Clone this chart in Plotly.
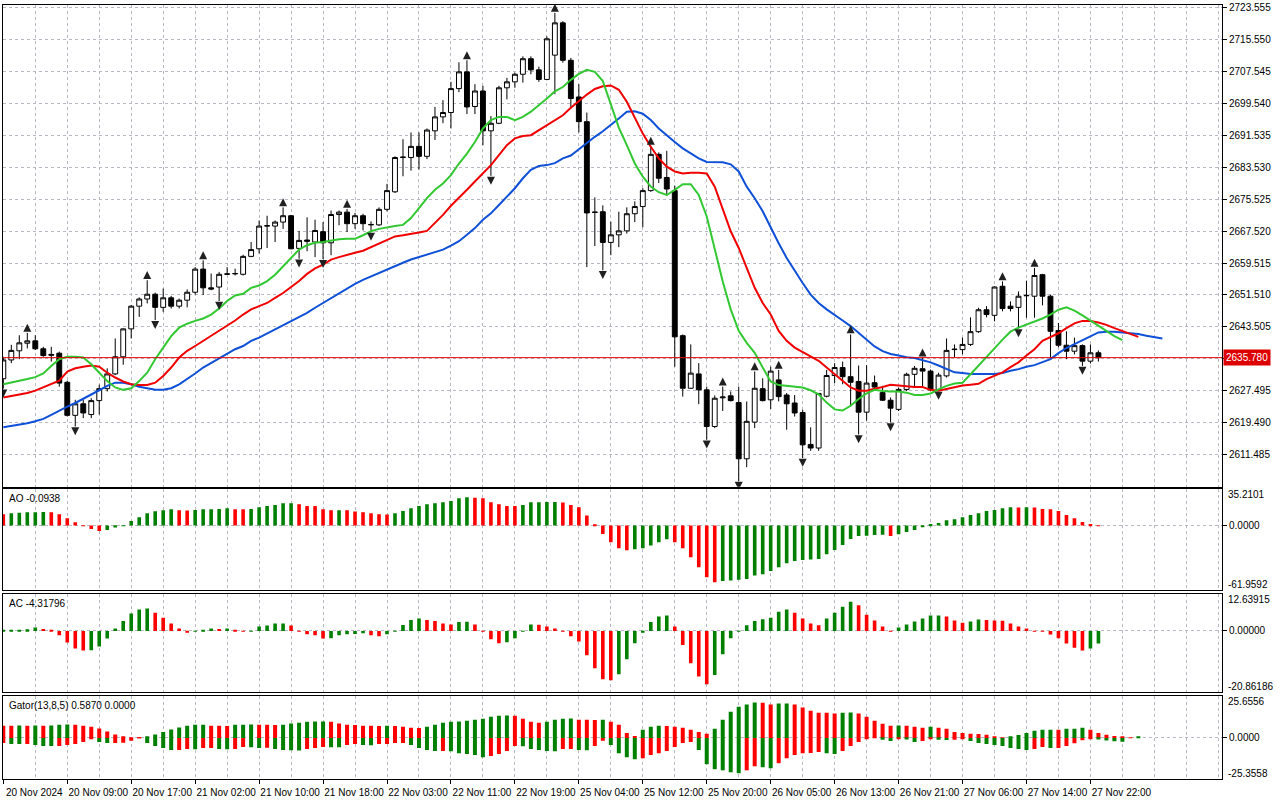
import plotly.graph_objects as go
from plotly.subplots import make_subplots

# XAUUSD H1, bar 0 = 20 Nov 01:00 ... bar 137 = 27 Nov 23:00
OPEN = [
    2630.5, 2635.2, 2637.5, 2639.4, 2640.0, 2638.0, 2636.6, 2636.9, 2629.6, 2621.3,
    2624.2, 2621.5, 2625.0, 2628.0, 2631.7, 2636.0, 2643.0, 2648.7, 2650.5, 2651.7,
    2648.4, 2650.8, 2648.7, 2650.2, 2652.2, 2658.0, 2653.3, 2653.5, 2656.7, 2656.8,
    2656.7, 2661.2, 2663.1, 2668.8, 2668.8, 2669.8, 2671.4, 2663.2, 2665.3, 2664.8,
    2667.4, 2664.6, 2671.7, 2672.3, 2669.4, 2671.4, 2669.1, 2669.1, 2673.0, 2677.4,
    2686.0, 2686.0, 2688.8, 2686.3, 2692.7, 2696.2, 2697.3, 2703.3, 2707.5, 2698.8,
    2702.7, 2692.7, 2694.6, 2703.5, 2705.0, 2706.9, 2710.8, 2708.0, 2705.6, 2711.7,
    2719.8, 2710.4, 2701.2, 2695.0, 2672.2, 2672.4, 2664.7, 2666.6, 2667.6, 2671.9,
    2673.7, 2677.7, 2686.8, 2681.0, 2677.7, 2641.3, 2628.1, 2631.7, 2627.7, 2618.5,
    2625.7, 2626.2, 2624.5, 2610.4, 2619.6, 2628.0, 2625.2, 2630.2, 2626.4, 2624.4,
    2622.0, 2614.0, 2613.1, 2626.1, 2631.3, 2633.3, 2631.0, 2629.8, 2622.1, 2629.5,
    2627.0, 2625.1, 2622.8, 2627.8, 2631.6, 2633.0, 2632.4, 2627.8, 2631.2, 2637.8,
    2637.8, 2639.1, 2642.3, 2647.8, 2646.4, 2653.7, 2648.7, 2648.4, 2651.3, 2651.2,
    2656.6, 2651.2, 2642.6, 2638.9, 2637.4, 2638.8, 2634.9, 2637.0,
]
HIGH = [
    2636.0, 2639.0, 2641.4, 2642.0, 2641.4, 2638.5, 2638.5, 2637.3, 2630.0, 2625.2,
    2625.2, 2625.6, 2629.0, 2633.1, 2640.6, 2643.1, 2649.0, 2650.9, 2655.2, 2652.1,
    2653.1, 2651.3, 2650.6, 2652.9, 2658.5, 2660.2, 2656.9, 2657.3, 2658.5, 2658.1,
    2661.6, 2664.8, 2670.2, 2671.4, 2670.2, 2673.5, 2671.6, 2667.6, 2671.0, 2670.4,
    2669.8, 2672.7, 2672.7, 2673.1, 2672.1, 2671.9, 2670.0, 2673.5, 2679.4, 2686.3,
    2690.6, 2692.3, 2692.3, 2693.3, 2698.7, 2700.4, 2705.0, 2709.9, 2710.4, 2704.4,
    2704.0, 2696.4, 2704.0, 2706.0, 2707.3, 2711.4, 2711.4, 2708.8, 2716.4, 2722.3,
    2720.2, 2711.0, 2704.4, 2697.3, 2676.0, 2674.0, 2669.9, 2672.4, 2673.5, 2675.0,
    2678.3, 2688.9, 2687.3, 2687.7, 2678.9, 2641.6, 2639.1, 2634.4, 2628.5, 2626.3,
    2628.5, 2627.3, 2628.5, 2624.8, 2632.3, 2630.6, 2633.5, 2632.7, 2626.9, 2626.4,
    2622.7, 2618.3, 2626.9, 2632.7, 2634.4, 2634.8, 2641.6, 2633.8, 2633.9, 2631.3,
    2628.7, 2625.8, 2628.3, 2632.0, 2633.7, 2635.8, 2632.8, 2632.0, 2640.6, 2639.1,
    2640.8, 2645.9, 2648.3, 2648.7, 2653.7, 2654.9, 2649.9, 2652.4, 2655.1, 2658.3,
    2656.8, 2651.6, 2644.5, 2642.4, 2640.8, 2639.1, 2639.1, 2637.6,
]
LOW = [
    2628.0, 2634.4, 2635.4, 2638.1, 2637.7, 2636.0, 2634.8, 2628.5, 2621.0, 2618.5,
    2620.6, 2620.6, 2621.5, 2627.3, 2631.4, 2634.0, 2640.6, 2646.0, 2649.4, 2645.2,
    2647.3, 2648.1, 2648.1, 2648.4, 2651.6, 2651.5, 2652.7, 2650.0, 2656.5, 2656.4,
    2656.4, 2661.0, 2661.9, 2663.3, 2664.8, 2668.1, 2663.0, 2660.6, 2662.5, 2661.0,
    2660.5, 2661.5, 2669.0, 2667.3, 2668.1, 2667.7, 2667.3, 2668.8, 2672.5, 2677.1,
    2681.3, 2682.7, 2683.0, 2685.6, 2690.4, 2694.6, 2693.3, 2702.4, 2696.9, 2696.9,
    2689.1, 2681.4, 2694.4, 2700.6, 2703.5, 2704.8, 2706.9, 2705.0, 2705.4, 2701.9,
    2709.8, 2698.5, 2692.3, 2658.5, 2663.8, 2657.7, 2661.5, 2663.5, 2666.9, 2669.8,
    2668.5, 2677.4, 2679.6, 2676.4, 2633.5, 2626.0, 2628.0, 2624.1, 2615.2, 2618.1,
    2622.4, 2624.8, 2604.8, 2608.3, 2618.1, 2624.8, 2622.9, 2624.8, 2617.7, 2621.0,
    2610.6, 2612.4, 2612.4, 2625.8, 2629.4, 2629.1, 2623.5, 2616.5, 2620.0, 2627.8,
    2624.9, 2619.5, 2622.4, 2627.4, 2628.3, 2628.3, 2627.4, 2627.4, 2630.8, 2635.8,
    2636.6, 2638.7, 2642.0, 2645.9, 2644.9, 2647.4, 2647.4, 2643.1, 2645.8, 2645.8,
    2648.9, 2635.4, 2638.4, 2635.4, 2636.6, 2633.7, 2634.3, 2634.8,
]
CLOSE = [
    2635.2, 2637.6, 2639.5, 2640.0, 2638.0, 2636.3, 2636.4, 2629.4, 2621.3, 2624.2,
    2621.9, 2625.0, 2628.0, 2631.7, 2636.0, 2643.0, 2648.7, 2650.5, 2651.7, 2648.4,
    2650.8, 2648.7, 2650.2, 2652.2, 2658.0, 2653.3, 2653.0, 2656.7, 2656.8, 2656.9,
    2661.2, 2662.9, 2668.8, 2668.9, 2669.8, 2671.4, 2663.1, 2665.2, 2665.0, 2667.7,
    2664.6, 2671.7, 2672.3, 2669.4, 2671.4, 2669.4, 2669.2, 2673.0, 2677.7, 2686.0,
    2686.1, 2688.8, 2686.3, 2692.9, 2696.2, 2697.3, 2703.3, 2707.5, 2698.7, 2702.7,
    2692.7, 2694.6, 2703.5, 2705.0, 2706.9, 2710.8, 2708.0, 2705.6, 2715.8, 2719.8,
    2710.4, 2700.8, 2695.0, 2672.1, 2672.3, 2664.7, 2666.6, 2667.6, 2671.9, 2673.7,
    2677.7, 2686.8, 2680.8, 2678.1, 2641.0, 2628.1, 2631.9, 2627.7, 2618.5, 2625.6,
    2625.9, 2625.0, 2610.4, 2619.8, 2628.1, 2625.0, 2632.4, 2626.0, 2624.2, 2621.9,
    2613.9, 2613.1, 2626.8, 2631.3, 2633.3, 2631.0, 2629.6, 2622.1, 2629.4, 2628.4,
    2625.1, 2623.1, 2627.8, 2631.6, 2633.1, 2632.4, 2627.7, 2631.4, 2637.6, 2637.9,
    2639.1, 2642.3, 2647.8, 2646.6, 2653.5, 2648.1, 2648.1, 2651.2, 2651.4, 2656.4,
    2651.2, 2642.4, 2638.9, 2637.4, 2638.8, 2634.9, 2637.0, 2635.78,
]

# Alligator lines (already shifted forward, so they run past the last bar)
LIPS = [
    2629.1, 2629.5, 2630.0, 2630.4, 2630.9, 2631.8, 2633.7, 2635.4, 2636.0, 2636.0,
    2635.8, 2634.1, 2632.0, 2629.9, 2628.3, 2627.7, 2628.1, 2629.9, 2632.0, 2635.4,
    2638.3, 2641.2, 2643.3, 2644.3, 2645.0, 2645.6, 2646.6, 2648.1, 2650.0, 2651.4,
    2651.8, 2653.3, 2653.9, 2655.0, 2656.6, 2658.7, 2660.8, 2662.9, 2664.0, 2664.6,
    2664.8, 2665.2, 2665.5, 2665.6, 2665.6, 2666.5, 2667.5, 2668.1, 2668.5, 2668.8,
    2669.1, 2670.8, 2673.3, 2675.8, 2677.9, 2679.5, 2681.6, 2684.5, 2687.0, 2689.9,
    2693.3, 2695.4, 2696.2, 2696.2, 2695.4, 2696.2, 2697.5, 2699.1, 2700.8, 2702.6,
    2703.7, 2705.5, 2707.0, 2708.0, 2707.5, 2705.2, 2699.5, 2693.5, 2689.1, 2684.5,
    2681.2, 2678.7, 2677.3, 2676.6, 2677.9, 2679.3, 2679.3, 2676.6, 2671.2, 2663.3,
    2654.9, 2647.9, 2642.5, 2639.5, 2637.0, 2633.3, 2629.8, 2628.9, 2628.7, 2628.5,
    2628.3, 2627.6, 2626.6, 2624.5, 2622.8, 2622.5, 2623.7, 2625.4, 2626.8, 2627.7,
    2627.4, 2627.3, 2627.3, 2627.0, 2626.4, 2626.4, 2626.8, 2627.8, 2628.7, 2629.3,
    2629.5, 2631.6, 2633.7, 2635.9, 2638.1, 2640.3, 2642.3, 2643.3, 2644.1, 2644.7,
    2645.6, 2646.6, 2647.8, 2648.4, 2647.6, 2646.4, 2645.1, 2643.7, 2642.4, 2641.2,
    2640.2,
]
TEETH = [
    2625.8, 2626.2, 2626.5, 2626.9, 2627.5, 2628.3, 2629.0, 2630.0, 2632.3, 2633.1,
    2633.5, 2633.8, 2633.5, 2632.0, 2630.8, 2629.8, 2629.1, 2628.9, 2628.9, 2629.5,
    2631.2, 2633.3, 2635.8, 2637.5, 2638.7, 2640.0, 2641.2, 2642.5, 2643.7, 2645.1,
    2646.6, 2647.9, 2648.7, 2649.5, 2650.8, 2652.0, 2653.5, 2655.0, 2656.8, 2658.2,
    2659.1, 2660.4, 2661.0, 2661.6, 2662.1, 2662.6, 2663.5, 2664.5, 2665.4, 2666.2,
    2666.5, 2666.8, 2667.2, 2667.6, 2669.5, 2671.6, 2673.9, 2675.8, 2677.9, 2680.0,
    2682.0, 2684.1, 2686.6, 2689.1, 2690.8, 2691.4, 2691.6, 2692.9, 2694.1, 2695.4,
    2696.6, 2698.5, 2700.2, 2701.8, 2703.2, 2703.9, 2704.1, 2703.0, 2700.0, 2696.2,
    2692.0, 2688.7, 2685.8, 2683.7, 2682.5, 2682.0, 2682.2, 2682.2, 2682.0, 2678.7,
    2673.3, 2667.5, 2663.3, 2658.3, 2653.3, 2649.5, 2646.6, 2642.5, 2640.0, 2638.3,
    2637.2, 2636.2, 2635.0, 2633.3, 2631.6, 2629.9, 2628.3, 2627.5, 2627.5, 2628.0,
    2628.4, 2629.0, 2628.8, 2628.5, 2628.4, 2628.4, 2627.7, 2627.5, 2627.9, 2628.4,
    2628.8, 2629.0, 2629.2, 2630.4, 2631.3, 2632.1, 2633.4, 2634.6, 2636.3, 2637.9,
    2640.0, 2641.0, 2641.9, 2643.2, 2644.4, 2645.0, 2645.0, 2644.6, 2644.0, 2643.2,
    2642.4, 2641.7, 2641.0,
]
JAW = [
    2618.3, 2618.6, 2619.0, 2619.3, 2619.8, 2620.4, 2621.4, 2622.5, 2623.5, 2624.4,
    2625.4, 2626.6, 2627.6, 2628.7, 2629.5, 2629.5, 2629.1, 2628.5, 2628.1, 2627.7,
    2627.7, 2628.1, 2629.1, 2630.4, 2631.8, 2633.3, 2634.4, 2635.6, 2636.8, 2637.9,
    2638.7, 2640.0, 2640.8, 2641.8, 2642.9, 2643.9, 2645.0, 2646.0, 2647.0, 2648.3,
    2649.5, 2650.8, 2652.0, 2653.1, 2654.3, 2655.3, 2656.2, 2657.0, 2657.9, 2658.7,
    2659.6, 2660.4, 2661.0, 2661.6, 2662.2, 2662.9, 2663.9, 2665.0, 2666.6, 2668.3,
    2670.4, 2672.0, 2674.1, 2676.2, 2678.3, 2680.8, 2682.9, 2683.9, 2684.1, 2684.6,
    2685.8, 2686.5, 2688.1, 2689.7, 2691.2, 2692.6, 2694.1, 2695.8, 2697.5, 2697.6,
    2697.0, 2695.4, 2693.3, 2691.5, 2689.9, 2688.3, 2687.0, 2685.8, 2684.9, 2684.9,
    2684.8, 2684.3, 2682.5, 2678.7, 2675.8, 2672.5, 2668.3, 2664.5, 2660.8, 2657.5,
    2654.5, 2651.6, 2649.5, 2647.9, 2646.6, 2645.1, 2643.7, 2642.0, 2640.2, 2638.6,
    2637.4, 2636.7, 2636.3, 2635.9, 2635.7, 2635.2, 2634.6, 2633.8, 2632.9, 2632.1,
    2631.9, 2631.7, 2631.7, 2631.7, 2631.7, 2631.9, 2632.5, 2632.9, 2633.5, 2633.9,
    2634.6, 2635.4, 2636.9, 2638.2, 2639.2, 2640.2, 2641.3, 2642.1, 2642.3, 2642.3,
    2642.1, 2641.9, 2641.7, 2641.3, 2641.0, 2640.6,
]

FRACTAL_UP = [3, 18, 25, 35, 43, 58, 69, 81, 90, 94, 97, 106, 115, 125, 129]
FRACTAL_DOWN = [0, 9, 19, 27, 37, 40, 46, 61, 75, 88, 92, 100, 107, 111, 117, 127, 135]

# Awesome Oscillator, g = rising bar, r = falling bar
AO = [
    10.9, 11.9, 12.5, 12.9, 13.0, 13.1, 12.9, 10.9, 7.1, 3.2,
    0.3, -3.2, -5.1, -4.2, -1.9, -0.3, 4.5, 8.0, 11.9, 13.8,
    14.8, 15.8, 14.8, 14.7, 15.1, 15.8, 15.9, 16.0, 16.7, 15.9,
    15.8, 16.1, 17.7, 19.0, 19.9, 21.6, 21.7, 20.6, 19.0, 18.9,
    15.8, 14.8, 14.9, 14.8, 13.5, 12.9, 11.9, 10.9, 10.8, 11.9,
    14.2, 16.7, 19.0, 20.6, 21.6, 22.5, 23.8, 26.4, 27.3, 27.0,
    26.4, 22.5, 20.6, 19.0, 18.9, 19.9, 22.5, 22.6, 22.7, 22.8,
    22.3, 19.9, 17.7, 9.7, 1.3, -8.0, -16.1, -21.9, -23.8, -22.8,
    -21.9, -19.3, -16.1, -13.2, -16.1, -21.9, -30.6, -40.2, -49.9, -54.7,
    -53.4, -53.1, -52.4, -51.5, -48.3, -47.0, -43.8, -40.2, -36.4, -34.1,
    -33.1, -32.8, -32.2, -27.7, -23.5, -18.7, -12.9, -10.0, -9.7, -9.0,
    -8.8, -10.0, -8.4, -6.1, -4.2, -1.3, 1.6, 2.6, 5.1, 6.1,
    8.0, 10.3, 11.9, 14.2, 15.1, 16.7, 17.7, 17.5, 17.7, 17.5,
    16.1, 15.8, 14.2, 10.3, 7.1, 3.5, 1.6, -0.0938,
]
AO_DIR = ("rgggggrrrr rrrggggggg ggrrgggggr rggggggrrr rrgrrrrrrg "
          "gggggggggr rrrrrggggg rrrrrrrrrg ggggrrrrrr gggggggggg "
          "gggggggggg grgggggggg gggggggrgr rrrrrrrr")

# Accelerator Oscillator
AC = [
    0.3, 0.35, 0.4, 0.57, 1.13, 0.68, 0.1, -1.47, -3.97, -6.0,
    -6.7, -6.6, -5.3, -2.6, 0.8, 3.4, 5.9, 7.3, 7.6, 6.2,
    4.5, 2.5, 0.8, -0.45, -0.05, 0.34, 0.8, 0.68, 0.8, 0.1,
    -0.1, 0.05, 1.47, 1.8, 2.5, 2.55, 1.8, -0.05, -1.13, -1.47,
    -2.6, -2.5, -1.47, -1.13, -1.05, -0.8, -1.47, -1.8, -1.13, 0.05,
    2.0, 3.7, 4.2, 3.7, 3.4, 2.5, 2.15, 3.06, 3.1, 2.15,
    -0.1, -2.8, -4.2, -3.85, -2.5, 0.05, 2.15, 2.1, 1.47, 0.8,
    -0.05, -1.8, -3.6, -8.3, -12.7, -16.4, -16.8, -14.7, -9.6, -4.2,
    -0.34, 3.06, 4.9, 5.2, 1.47, -4.8, -11.0, -15.5, -18.1, -15.0,
    -7.9, -2.5, 0.05, 1.9, 3.4, 4.0, 4.5, 6.5, 7.3, 6.2,
    4.2, 2.5, 1.9, 4.2, 6.2, 8.2, 9.9, 8.7, 5.5, 3.5,
    1.47, -0.05, 1.13, 2.15, 3.2, 4.2, 5.2, 5.25, 4.9, 3.5,
    2.8, 3.2, 3.85, 3.7, 3.5, 3.45, 2.5, 1.47, 0.8, -0.05,
    -0.15, -1.24, -2.5, -4.3, -5.7, -6.7, -6.0, -4.31796,
]
AC_DIR = ("gggggrrrrr rggggggggr rrrrgggrgr rgggggrrrr rgggggrrgg "
          "gggrrrrggr rrrggggrrr rrrrrrrggg ggggrrrrrg gggggggggr "
          "rrrggggrrr rrggggggrr rggrrrrrrr rrrrrrgg")

# Gator oscillator: upper = |jaw - teeth|, lower = -|teeth - lips|
GATOR_UP = [
    7.5, 7.5, 7.6, 7.5, 7.6, 7.5, 7.7, 8.1, 8.3, 8.1,
    7.5, 6.9, 5.8, 4.0, 2.1, 0.8, 0.2, 0.15, 0.8, 2.1,
    3.7, 5.2, 6.4, 7.5, 8.1, 8.2, 7.5, 7.5, 7.4, 8.1,
    8.2, 8.3, 8.1, 8.1, 8.0, 8.1, 8.9, 9.4, 10.0, 10.1,
    10.2, 10.0, 8.9, 8.1, 8.0, 7.5, 7.5, 7.4, 7.5, 7.4,
    6.9, 6.2, 6.1, 6.9, 8.1, 9.4, 10.0, 10.1, 10.6, 11.2,
    11.9, 13.1, 13.7, 13.8, 13.7, 11.9, 10.0, 9.4, 10.0, 11.2,
    11.9, 12.0, 11.2, 11.2, 11.1, 11.2, 10.0, 8.1, 3.1, 1.2,
    5.0, 6.9, 7.5, 7.4, 6.9, 6.2, 5.0, 3.7, 2.5, 5.6,
    11.2, 16.2, 19.3, 20.6, 21.8, 21.7, 20.6, 21.2, 21.3, 20.6,
    18.7, 16.8, 15.6, 15.5, 15.0, 15.6, 15.7, 15.0, 13.1, 10.6,
    8.7, 7.5, 7.6, 7.5, 6.9, 6.2, 6.9, 6.2, 5.6, 3.7,
    3.1, 2.5, 2.4, 1.9, 0.6, 0.2, 0.9, 1.8, 3.1, 4.4,
    5.0, 5.1, 5.0, 5.6, 5.7, 6.2, 5.0, 3.1, 1.9, 1.2,
    0.6, 0.2, 0.587,
]
GATOR_UP_DIR = ("rrgrgrgggr rrrrrrrrgg ggggggrrrg ggrrrggggg grrrrrrrgr "
                "rrrggggggg ggggrrrrgg ggrrrgrrrr gggrrrrrrg gggggrrggr "
                "rrrrrggrrr rrgrrrgrrr rrrrrrgggg ggrgggrrrr rrg")
GATOR_DN = [
    -3.1, -3.7, -3.7, -3.7, -4.4, -5.0, -5.0, -5.0, -4.4, -3.7,
    -2.5, -0.6, -2.5, -3.1, -3.1, -3.0, -1.7, -0.1, -3.1, -5.0,
    -6.2, -7.5, -7.4, -6.9, -7.0, -6.2, -6.2, -6.9, -7.0, -6.9,
    -5.6, -5.7, -6.2, -6.1, -6.9, -7.5, -7.6, -7.7, -6.9, -6.2,
    -5.6, -5.7, -5.8, -4.4, -3.7, -4.4, -4.5, -3.7, -3.7, -3.1,
    -3.1, -4.4, -6.2, -7.5, -8.1, -8.1, -8.2, -9.4, -10.0, -10.6,
    -11.9, -11.2, -10.0, -8.1, -5.0, -5.1, -6.9, -7.5, -8.1, -8.2,
    -6.9, -6.9, -7.5, -7.6, -5.0, -1.7, -4.4, -9.4, -11.9, -13.1,
    -12.5, -10.6, -9.4, -8.1, -5.6, -3.1, -2.5, -7.5, -16.2, -19.3,
    -20.0, -21.2, -21.8, -20.0, -17.5, -18.1, -18.7, -15.6, -12.5, -10.6,
    -9.4, -9.3, -8.7, -9.4, -10.0, -8.1, -5.0, -2.5, -0.6, -0.2,
    -1.2, -1.9, -0.6, -1.0, -2.5, -1.9, -0.6, -1.2, -1.3, -1.2,
    -0.5, -1.9, -3.1, -3.7, -4.4, -5.0, -6.2, -6.9, -7.5, -6.9,
    -5.6, -6.2, -6.2, -5.0, -3.3, -1.5, -0.3, -1.0, -1.6, -2.0,
    -2.3,
]
GATOR_DN_DIR = ("rggrgggrrr rrggrrrrgg ggrrgrrggr rggrggggrr rggrrggrrr "
                "rggggrgggg grrrrggggg rrggrrgggg rrrrrrrggg gggrrggrrr "
                "rrrggrrrrr ggrggrrggr rggggggggr rgrrrrrggg g")

TIME_LABELS = [
    "20 Nov 2024", "20 Nov 09:00", "20 Nov 17:00", "21 Nov 02:00", "21 Nov 10:00",
    "21 Nov 18:00", "22 Nov 03:00", "22 Nov 11:00", "22 Nov 19:00", "25 Nov 04:00",
    "25 Nov 12:00", "25 Nov 20:00", "26 Nov 05:00", "26 Nov 13:00", "26 Nov 21:00",
    "27 Nov 06:00", "27 Nov 14:00", "27 Nov 22:00",
]
PRICE_TICKS = [
    "2611.485", "2619.490", "2627.495", "2635.500", "2643.505", "2651.510", "2659.515",
    "2667.520", "2675.525", "2683.530", "2691.535", "2699.540", "2707.545", "2715.550",
    "2723.555",
]
BID = 2635.78
AO_RANGE = [-61.9592, 35.2101]
AC_RANGE = [-20.86186, 12.63915]
GATOR_RANGE = [-25.3558, 25.6556]

FONT = "Liberation Sans"
GRID = "#b9b9c3"
UP_COL, DN_COL = "#008000", "#ff0000"


def dir_colors(flags):
    return [UP_COL if f == "g" else DN_COL for f in flags.replace(" ", "")]


bars = list(range(len(CLOSE)))

fig = make_subplots(rows=4, cols=1, shared_xaxes=True, vertical_spacing=0.0)

fig.add_trace(go.Candlestick(
    x=bars, open=OPEN, high=HIGH, low=LOW, close=CLOSE,
    increasing=dict(fillcolor="white", line=dict(color="black", width=1)),
    decreasing=dict(fillcolor="black", line=dict(color="black", width=1)),
    whiskerwidth=0,
), row=1, col=1)

# alligator: jaw (blue), teeth (red), lips (green)
for vals, col in [(JAW, "#0f50d8"), (TEETH, "#f00000"), (LIPS, "#32c832")]:
    fig.add_trace(go.Scatter(
        x=list(range(len(vals))), y=vals, mode="lines",
        line=dict(color=col, width=2),
    ), row=1, col=1)

# fractals, drawn a little above the high / below the low
fig.add_trace(go.Scatter(
    x=FRACTAL_UP, y=[HIGH[i] + 2.3 for i in FRACTAL_UP], mode="markers",
    marker=dict(symbol="arrow-up", size=8, color="#202020"),
), row=1, col=1)
fig.add_trace(go.Scatter(
    x=FRACTAL_DOWN, y=[LOW[i] - 2.2 for i in FRACTAL_DOWN], mode="markers",
    marker=dict(symbol="arrow-down", size=8, color="#202020"),
), row=1, col=1)

fig.add_trace(go.Bar(x=bars, y=AO, width=0.45, marker=dict(color=dir_colors(AO_DIR), line_width=0)), row=2, col=1)
fig.add_trace(go.Bar(x=bars, y=AC, width=0.45, marker=dict(color=dir_colors(AC_DIR), line_width=0)), row=3, col=1)
fig.add_trace(go.Bar(x=list(range(len(GATOR_UP))), y=GATOR_UP, width=0.5,
                     marker=dict(color=dir_colors(GATOR_UP_DIR), line_width=0)), row=4, col=1)
fig.add_trace(go.Bar(x=list(range(len(GATOR_DN))), y=GATOR_DN, width=0.5,
                     marker=dict(color=dir_colors(GATOR_DN_DIR), line_width=0)), row=4, col=1)

# bid line
fig.add_shape(type="line", xref="x domain", yref="y", x0=0, x1=1, y0=BID, y1=BID,
              line=dict(color="#e00000", width=1))

# x axes: label every 8 bars, grid every 4 bars
major = list(range(0, 8 * len(TIME_LABELS), 8))
minor = [v for v in range(4, 153, 4) if v not in major]
for r in range(1, 5):
    fig.update_xaxes(
        row=r, col=1, range=[-0.04, 152.46], tickmode="array", tickvals=major,
        ticktext=TIME_LABELS, showticklabels=(r == 4),
        ticks="outside" if r == 4 else "", ticklen=4, tickcolor="black",
        ticklabelshift=31, tickfont=dict(family=FONT, size=10, color="black"),
        showgrid=True, gridcolor=GRID, griddash="3px,3px", gridwidth=1,
        minor=dict(tickmode="array", tickvals=minor, showgrid=True, gridcolor=GRID,
                   griddash="3px,3px", gridwidth=1, ticks=""),
        showline=True, linecolor="black", linewidth=1, mirror=True, zeroline=False,
        rangeslider_visible=False, fixedrange=True,
    )

yax = dict(side="right", showline=True, linecolor="black", linewidth=1, mirror=True,
           zeroline=False, showgrid=True, gridcolor=GRID, griddash="3px,3px",
           ticks="outside", ticklen=4, tickcolor="black", ticklabeloverflow="allow",
           tickfont=dict(family=FONT, size=10, color="black"), fixedrange=True)

# the bid label covers the 2635.500 level, so that one is left without text
price_text = ["" if abs(float(t) - BID) < 1 else t for t in PRICE_TICKS]

fig.update_layout(
    width=1280, height=800,
    margin=dict(l=2, r=58, t=2, b=21),
    paper_bgcolor="white", plot_bgcolor="white",
    showlegend=False, hovermode=False,
    boxgap=0.22, boxgroupgap=0.22, barmode="overlay",
    font=dict(family=FONT, size=10, color="black"),
    yaxis=dict(yax, domain=[0.3777, 1.0], range=[2603.405, 2724.28],
               tickvals=[float(t) for t in PRICE_TICKS], ticktext=price_text),
    yaxis2=dict(yax, domain=[0.2445, 0.3745], range=AO_RANGE,
                tickvals=[0], ticktext=["0.0000"]),
    yaxis3=dict(yax, domain=[0.1120, 0.2394], range=AC_RANGE,
                tickvals=[0], ticktext=["0.00000"]),
    yaxis4=dict(yax, domain=[0.0, 0.1068], range=GATOR_RANGE,
                tickvals=[0], ticktext=["0.0000"]),
)

annotations = [
    dict(x=1, xref="paper", xanchor="left", xshift=1, y=BID, yref="y", yanchor="middle",
         text="2635.780", showarrow=False, bgcolor="#dd0000", borderpad=2,
         font=dict(family=FONT, size=10, color="white")),
]
panels = [
    ("y2", "AO -0.0938", AO_RANGE, "{:.4f}"),
    ("y3", "AC -4.31796", AC_RANGE, "{:.5f}"),
    ("y4", "Gator(13,8,5) 0.5870 0.0000", GATOR_RANGE, "{:.4f}"),
]
for ax, title, rng, fmt in panels:
    annotations.append(dict(x=0, xref="paper", xanchor="left", xshift=4, y=1,
                            yref=ax + " domain", yanchor="top", yshift=-2, text=title,
                            showarrow=False, font=dict(family=FONT, size=10, color="black")))
    annotations.append(dict(x=1, xref="paper", xanchor="left", xshift=4, y=1,
                            yref=ax + " domain", yanchor="top", yshift=2, text=fmt.format(rng[1]),
                            showarrow=False, font=dict(family=FONT, size=10, color="black")))
    annotations.append(dict(x=1, xref="paper", xanchor="left", xshift=4, y=0,
                            yref=ax + " domain", yanchor="bottom", yshift=-2, text=fmt.format(rng[0]),
                            showarrow=False, font=dict(family=FONT, size=10, color="black")))
fig.update_layout(annotations=annotations)

# the page's default body margin would push the 1280x800 chart off the window
fig.write_html("out.html", config={"displayModeBar": False},
               post_script="document.body.style.margin = '0px';")
